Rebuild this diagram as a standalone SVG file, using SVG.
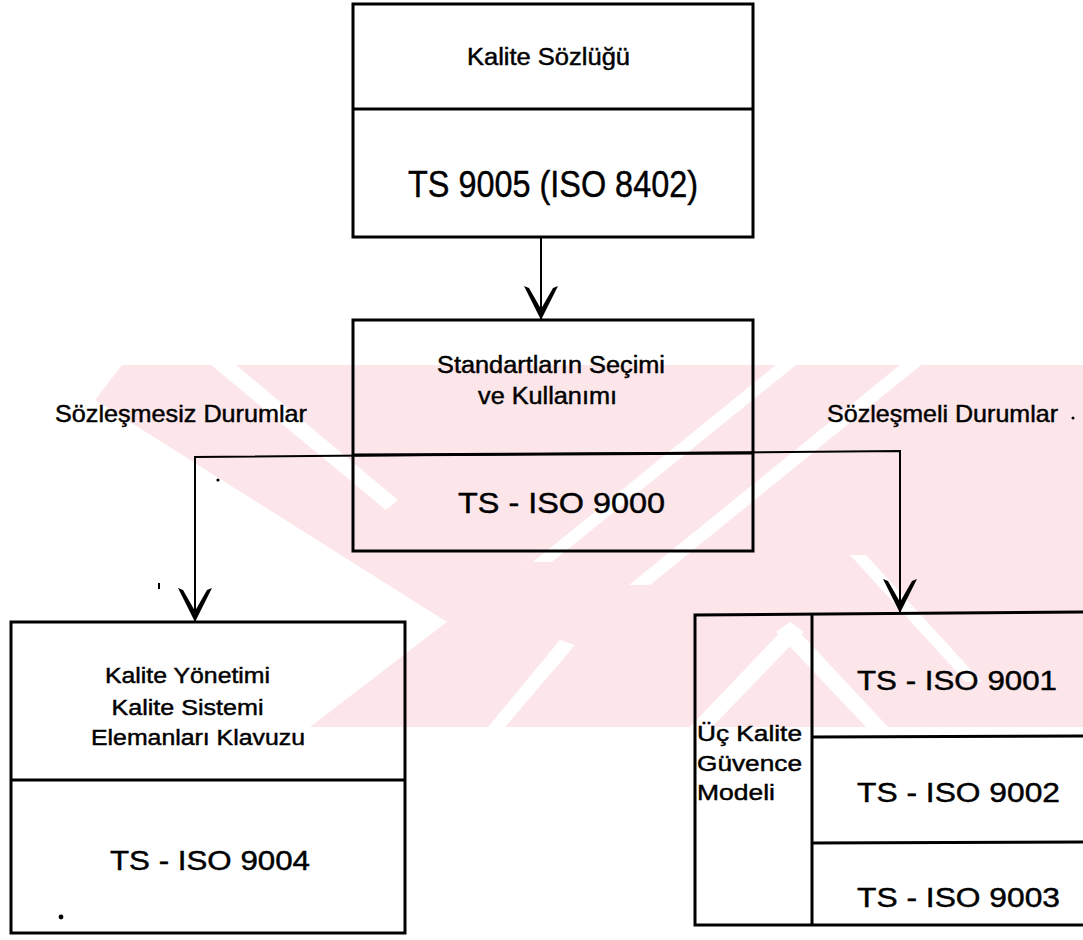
<svg xmlns="http://www.w3.org/2000/svg" width="1083" height="940" viewBox="0 0 1083 940">
  <defs>
    <style>
      .box { fill: none; stroke: #000; stroke-width: 3; }
      .rule { fill: none; stroke: #000; stroke-width: 3; }
      .wire { fill: none; stroke: #000; stroke-width: 2; }
      .t { font-family: "Liberation Sans", Arial, sans-serif; fill: #000; stroke: #000; stroke-width: 0.45; }
      .wm { fill: #fce6ea; }
      .gap { fill: #fff; }
    </style>
    <marker id="barb" markerUnits="userSpaceOnUse" viewBox="-34 -18 36 36" markerWidth="36" markerHeight="36" refX="0" refY="0" orient="auto" overflow="visible">
      <path d="M1,0 L-33,-17 L-31,-12 L-10,0 L-31,12 L-33,17 Z" fill="#000"/>
    </marker>
  </defs>

  <rect width="1083" height="940" fill="#fff"/>

  <!-- pale striped backdrop -->
  <g id="watermark">
    <polygon class="wm" points="122,365 782,365 447,622 95,400"/>
    <polygon class="wm" points="782,365 1083,365 1083,727 310,727"/>
    <polygon class="gap" points="211,365 236,365 398,500 386,510"/>
    <polygon class="gap" points="776,365 796,365 552,562 533,562"/>
    <polygon class="gap" points="900,365 921,365 650,585 629,585"/>
    <polygon class="gap" points="560,640 575,645 505,727 488,727"/>
    <polygon class="gap" points="790,622 804,632 712,727 690,727"/>
    <polygon class="gap" points="790,622 776,632 866,727 888,727"/>
    <polygon class="gap" points="850,555 866,555 982,682 966,682"/>
  </g>

  <!-- connectors -->
  <g id="connectors">
    <line class="wire" x1="541" y1="237" x2="541" y2="319" marker-end="url(#barb)"/>
    <polyline class="wire" points="195,621 195,457 900,451 900,612"/>
    <line class="wire" x1="195" y1="600" x2="195" y2="621" marker-end="url(#barb)"/>
    <line class="wire" x1="900" y1="590" x2="900" y2="612" marker-end="url(#barb)"/>
  </g>

  <!-- top: vocabulary standard -->
  <g id="node-vocabulary">
    <rect class="box" x="353" y="4" width="400" height="233"/>
    <line class="rule" x1="353" y1="109" x2="753" y2="109" stroke-width="4"/>
    <text class="t" x="548.5" y="65" font-size="23" text-anchor="middle" textLength="163" lengthAdjust="spacingAndGlyphs">Kalite Sözlüğü</text>
    <text class="t" x="553" y="197" font-size="37" text-anchor="middle" textLength="290" lengthAdjust="spacingAndGlyphs">TS 9005 (ISO 8402)</text>
  </g>

  <!-- middle: selection and use -->
  <g id="node-selection">
    <rect class="box" x="353" y="320" width="400" height="231"/>
    <line class="rule" x1="353" y1="455" x2="753" y2="453"/>
    <text class="t" x="551" y="373" font-size="23" text-anchor="middle" textLength="228" lengthAdjust="spacingAndGlyphs">Standartların Seçimi</text>
    <text class="t" x="547.5" y="404" font-size="23" text-anchor="middle" textLength="139" lengthAdjust="spacingAndGlyphs">ve Kullanımı</text>
    <text class="t" x="561.5" y="513" font-size="29" text-anchor="middle" textLength="207" lengthAdjust="spacingAndGlyphs">TS - ISO 9000</text>
  </g>

  <!-- branch labels -->
  <g id="label-noncontract">
    <text class="t" x="55" y="422" font-size="24" textLength="252" lengthAdjust="spacingAndGlyphs">Sözleşmesiz Durumlar</text>
  </g>
  <g id="label-contract">
    <text class="t" x="827" y="422" font-size="24" textLength="231" lengthAdjust="spacingAndGlyphs">Sözleşmeli Durumlar</text>
  </g>

  <!-- left: management guideline -->
  <g id="node-guideline">
    <rect class="box" x="11" y="622" width="394" height="311"/>
    <line class="rule" x1="11" y1="780" x2="405" y2="780"/>
    <text class="t" x="187.5" y="683" font-size="22" text-anchor="middle" textLength="165" lengthAdjust="spacingAndGlyphs">Kalite Yönetimi</text>
    <text class="t" x="187.5" y="715" font-size="22" text-anchor="middle" textLength="152" lengthAdjust="spacingAndGlyphs">Kalite Sistemi</text>
    <text class="t" x="198" y="745" font-size="22" text-anchor="middle" textLength="214" lengthAdjust="spacingAndGlyphs">Elemanları Klavuzu</text>
    <text class="t" x="210" y="870" font-size="28" text-anchor="middle" textLength="200" lengthAdjust="spacingAndGlyphs">TS - ISO 9004</text>
  </g>

  <!-- right: three assurance models -->
  <g id="node-assurance">
    <polyline class="box" points="1090,612 695,615 695,925 1090,925"/>
    <line class="rule" x1="812" y1="614" x2="812" y2="925"/>
    <line class="rule" x1="812" y1="737" x2="1090" y2="736"/>
    <line class="rule" x1="812" y1="843" x2="1090" y2="842"/>
    <text class="t" x="697" y="740.5" font-size="22" textLength="105" lengthAdjust="spacingAndGlyphs">Üç Kalite</text>
    <text class="t" x="697" y="770.5" font-size="22" textLength="105" lengthAdjust="spacingAndGlyphs">Güvence</text>
    <text class="t" x="697" y="800" font-size="22" textLength="78" lengthAdjust="spacingAndGlyphs">Modeli</text>
    <text class="t" x="857" y="690" font-size="28" textLength="200" lengthAdjust="spacingAndGlyphs">TS - ISO 9001</text>
    <text class="t" x="857" y="801.5" font-size="28" textLength="203" lengthAdjust="spacingAndGlyphs">TS - ISO 9002</text>
    <text class="t" x="857" y="906.5" font-size="28" textLength="203" lengthAdjust="spacingAndGlyphs">TS - ISO 9003</text>
  </g>

  <!-- print specks -->
  <g id="specks" fill="#000">
    <circle cx="1073" cy="418" r="1.5"/>
    <circle cx="218" cy="480" r="1.6"/>
    <rect x="158" y="583" width="2" height="6"/>
    <circle cx="61" cy="917" r="2.4"/>
  </g>
</svg>
